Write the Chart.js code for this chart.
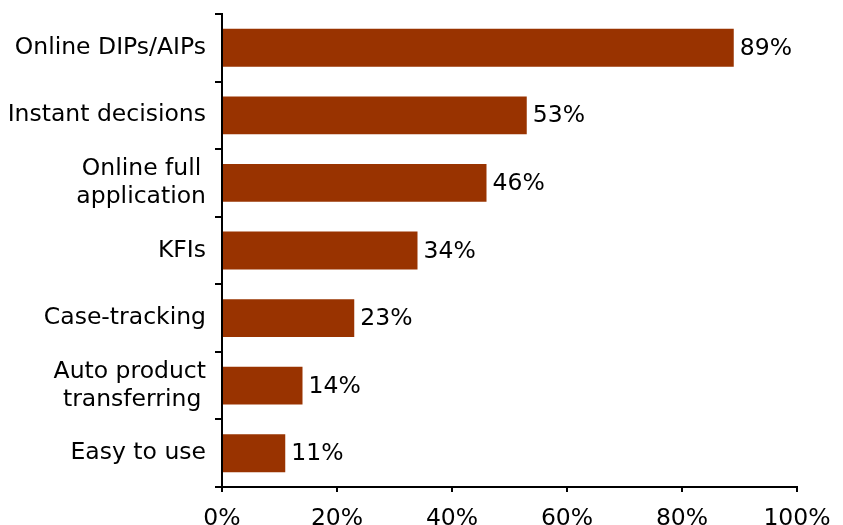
<!DOCTYPE html>
<html>
<head>
<meta charset="utf-8">
<script src="https://cdn.jsdelivr.net/npm/chart.js@4"></script>
<style>
  html, body { margin: 0; padding: 0; background: #fff; }
  #grafico { display: block; }
</style>
</head>
<body>
<canvas id="grafico" width="843" height="525"></canvas>
<script>
var categorias = [
  "Online DIPs/AIPs",
  "Instant decisions",
  ["Online full\u2009", "application"],
  "KFIs",
  "Case-tracking",
  ["Auto product", "transferring\u2009"],
  "Easy to use"
];
var valores = [89, 53, 46, 34, 23, 14, 11];
var ticksX = [0, 20, 40, 60, 80, 100];

var fonte = { family: "'DejaVu Sans', Verdana, sans-serif", size: 23.5, lineHeight: 1.19 };

// escreve o valor em % ao lado de cada barra
var rotulosBarras = {
  id: "rotulosBarras",
  afterDatasetsDraw: function (chart) {
    var ctx = chart.ctx;
    var meta = chart.getDatasetMeta(0);
    ctx.save();
    ctx.font = fonte.size + "px " + fonte.family;
    ctx.fillStyle = "#000";
    ctx.textAlign = "left";
    ctx.textBaseline = "middle";
    meta.data.forEach(function (barra, i) {
      ctx.fillText(valores[i] + "%", barra.x + 6, barra.y + 1);
    });
    ctx.restore();
  }
};

new Chart(document.getElementById("grafico").getContext("2d"), {
  type: "bar",
  data: {
    labels: categorias,
    datasets: [{
      data: valores,
      backgroundColor: "#993300",
      borderWidth: 0,
      barPercentage: 0.56,
      categoryPercentage: 1
    }]
  },
  options: {
    indexAxis: "y",
    responsive: false,
    animation: false,
    layout: { padding: { top: 14, right: 46, left: 0, bottom: 0 } },
    plugins: {
      legend: { display: false },
      tooltip: { enabled: false }
    },
    scales: {
      x: {
        min: 0,
        max: 100,
        afterBuildTicks: function (eixo) {
          eixo.ticks = ticksX.map(function (v) { return { value: v }; });
        },
        afterFit: function (eixo) {
          eixo.height = 38;
          eixo.paddingLeft = 0;
          eixo.paddingRight = 0;
        },
        border: { display: true, color: "#000", width: 2 },
        grid: { drawOnChartArea: false, color: "#000", lineWidth: 2, tickLength: 5 },
        ticks: {
          color: "#000",
          font: fonte,
          padding: 13,
          maxRotation: 0,
          callback: function (v) { return v + "%"; }
        }
      },
      y: {
        offset: true,
        afterFit: function (eixo) {
          eixo.width = 222;
          eixo.paddingTop = 0;
          eixo.paddingBottom = 0;
        },
        border: { display: true, color: "#000", width: 2 },
        grid: { offset: true, drawOnChartArea: false, color: "#000", lineWidth: 2, tickLength: 7 },
        ticks: {
          color: "#000",
          font: fonte,
          padding: 9,
          crossAlign: "near"
        }
      }
    }
  },
  plugins: [rotulosBarras]
});
</script>
</body>
</html>
